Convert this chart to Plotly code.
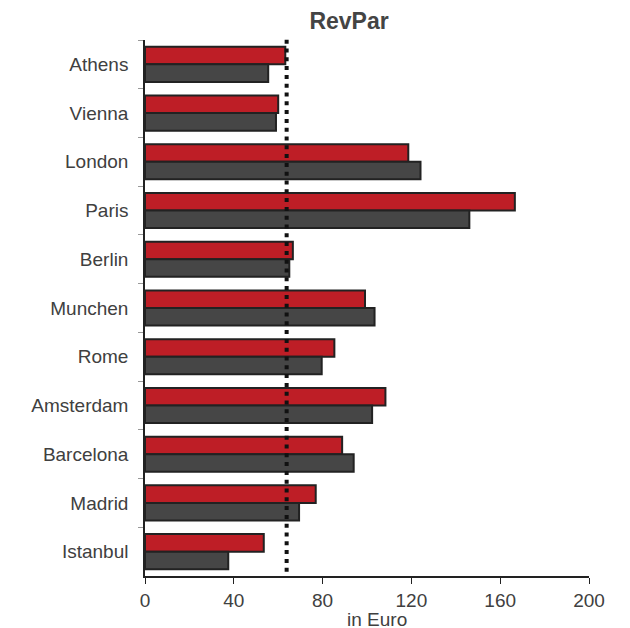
import plotly.graph_objects as go

cities = ["Athens", "Vienna", "London", "Paris", "Berlin", "Munchen",
          "Rome", "Amsterdam", "Barcelona", "Madrid", "Istanbul"]
revpar_red = [63.2, 60.0, 118.6, 166.6, 66.6, 99.1, 85.3, 108.3, 88.8, 76.9, 53.5]
revpar_dark = [55.5, 59.0, 124.1, 146.1, 65.0, 103.4, 79.6, 102.3, 94.0, 69.4, 37.5]
reference_value = 63.8
x_ticks = [0, 40, 80, 120, 160, 200]

fig = go.Figure()
fig.add_trace(go.Bar(y=cities, x=revpar_red, orientation="h",
                     marker=dict(color="#BE1E26", line=dict(color="#222222", width=2)),
                     showlegend=False))
fig.add_trace(go.Bar(y=cities, x=revpar_dark, orientation="h",
                     marker=dict(color="#464646", line=dict(color="#222222", width=2)),
                     showlegend=False))

# dotted reference line
fig.add_shape(type="line", xref="x", yref="paper",
              x0=reference_value, x1=reference_value, y0=0.008, y1=1.006,
              line=dict(color="#111111", width=4, dash="4px,4.8px"))

# x axis title sits a bit right of the plot centre
fig.add_annotation(text="in Euro", xref="paper", yref="paper", x=0.523, y=0,
                   xanchor="center", yanchor="top", yshift=-31, showarrow=False,
                   font=dict(size=19, color="#404040"))

fig.update_layout(
    width=630, height=628,
    margin=dict(l=145, r=41, t=40, b=52, autoexpand=False),
    barmode="group", bargap=0.28, bargroupgap=0,
    plot_bgcolor="white", paper_bgcolor="white",
    font=dict(family="Liberation Sans, Arial, sans-serif", size=19, color="#404040"),
    title=dict(text="<b>RevPar</b>", x=0.554, xanchor="center", y=0.979, yanchor="top",
               font=dict(size=23, color="#444444")),
    xaxis=dict(range=[0, 200], tickvals=x_ticks, showgrid=False, zeroline=False,
               showline=True, linecolor="#222222", linewidth=1.5, automargin=False,
               ticks="outside", ticklen=6, tickcolor="#222222"),
    yaxis=dict(autorange="reversed", showgrid=False, showline=True, automargin=False,
               linecolor="#222222", linewidth=1.5,
               ticks="outside", tickson="boundaries", ticklen=5, tickcolor="#999999",
               ticklabelstandoff=11),
)

# drop the default 8px body margin so the figure fills the window exactly
fig.write_html("out.html", config={"displayModeBar": False},
               post_script="document.body.style.margin='0';")
